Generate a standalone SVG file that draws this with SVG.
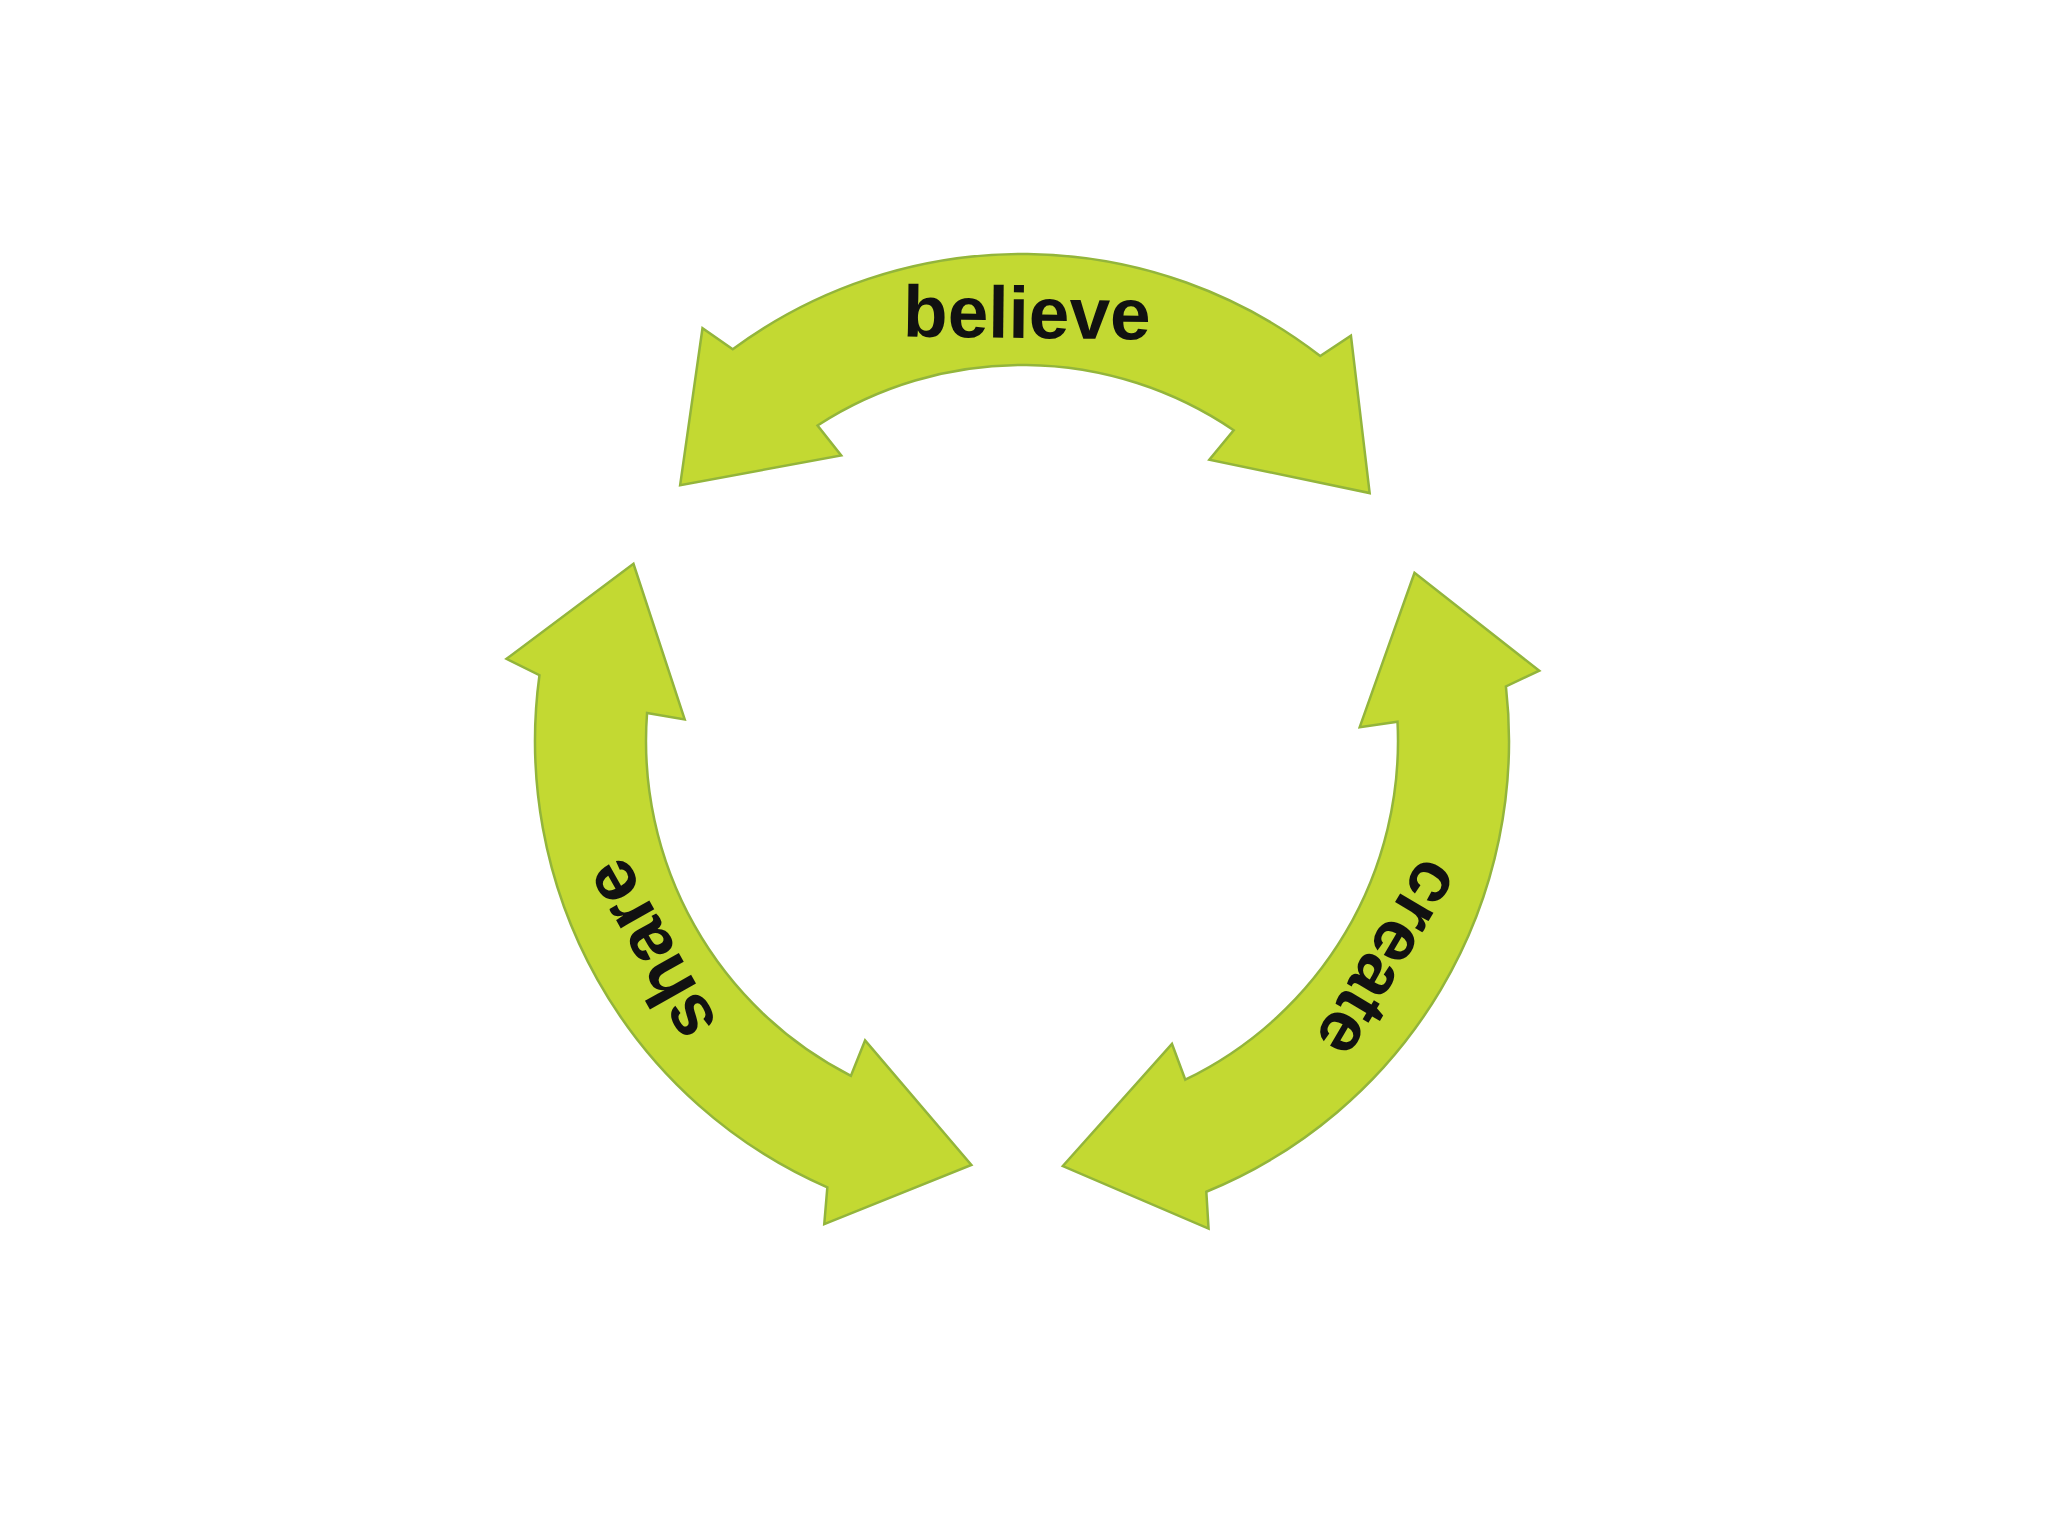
<svg xmlns="http://www.w3.org/2000/svg" width="2048" height="1536" viewBox="0 0 2048 1536">
  <style>
    .arrow { fill: #c3d932; stroke: #93b53b; stroke-width: 2.5; stroke-linejoin: miter; }
    .label { font-family: "Liberation Sans", Arial, sans-serif; font-weight: bold; font-size: 73px; fill: #111111; text-anchor: middle; }
  </style>
  <defs>
    <path id="dblArc" d="M -293.76,-388.42 A 487 487 0 0 1 293.76,-388.42 L 324.24,-409.09 L 344.79,-251.89 L 184.09,-283.47 L 208.07,-313.18 A 376 376 0 0 0 -208.07,-313.18 L -184.09,-283.47 L -344.79,-251.89 L -324.24,-409.09 Z"/>
  </defs>
  <rect width="2048" height="1536" fill="#ffffff"/>
  <g id="connectors">
    <g id="believe" transform="translate(1022,741) rotate(0.66)">
      <use href="#dblArc" class="arrow"/>
      <text class="label" x="0" y="-403">believe</text>
    </g>
    <g id="create" transform="translate(1022,741) rotate(120.66)">
      <use href="#dblArc" class="arrow"/>
      <text class="label" x="0" y="-403">create</text>
    </g>
    <g id="share" transform="translate(1022,741) rotate(240.66)">
      <use href="#dblArc" class="arrow"/>
      <text class="label" x="0" y="-403">share</text>
    </g>
  </g>
</svg>
